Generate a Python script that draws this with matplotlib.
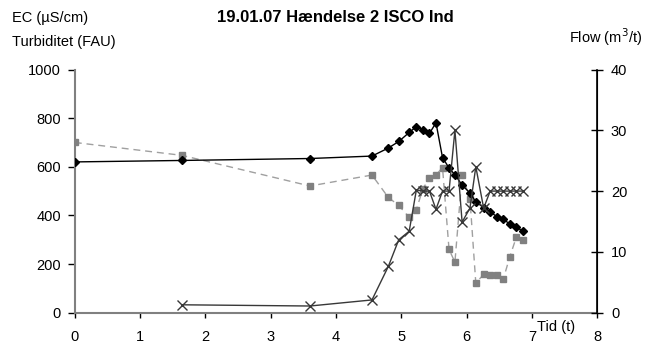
import numpy as np
import matplotlib
matplotlib.use("Agg")
import matplotlib.pyplot as plt

plt.rcParams['font.family'] = ['Liberation Sans', 'DejaVu Sans']

# Sampling times (hours)
tid = [0, 1.64, 3.6, 4.55, 4.8, 4.96, 5.12, 5.23, 5.33, 5.43, 5.53, 5.63,
       5.73, 5.82, 5.93, 6.05, 6.14, 6.26, 6.36, 6.46, 6.56, 6.66, 6.76, 6.86]

# Conductivity (µS/cm)
ec = [620, 626, 634, 644, 677, 704, 741, 765, 752, 737, 781, 638,
      595, 567, 525, 492, 456, 432, 415, 395, 384, 365, 351, 336]

# Turbidity (FAU)
turbiditet = [700, 647, 521, 566, 474, 441, 392, 424, 510, 553, 566, 597,
              260, 208, 566, 469, 121, 158, 154, 154, 137, 230, 310, 299]

# Flow (m3/t); no reading at t = 0
flow = [np.nan, 1.3, 1.1, 2.1, 7.6, 12.0, 13.4, 20.2, 20.0, 20.0, 17.0, 20.0,
        20.0, 30.0, 14.9, 17.2, 24.0, 17.2, 20.0, 20.0, 20.0, 20.0, 20.0, 20.0]

x_ticks = [0, 1, 2, 3, 4, 5, 6, 7, 8]
left_ticks = [0, 200, 400, 600, 800, 1000]
right_ticks = [0, 10, 20, 30, 40]

W, H = 647, 347
fig = plt.figure(figsize=(W / 100, H / 100), dpi=100)
ax = fig.add_axes([74.8 / W, 1 - 312.7 / H, (597.3 - 74.8) / W, (312.7 - 69.5) / H])
ax2 = ax.twinx()

ax.plot(tid, turbiditet, color='#a0a0a0', lw=1, ls=(0, (5, 3.5)),
        marker='s', ms=4, mfc='#808080', mec='#808080', zorder=2)
ax.plot(tid, ec, color='black', lw=1, marker='D', ms=3.8,
        mfc='black', mec='black', zorder=3)
ax2.plot(tid, flow, color='#383838', lw=1, marker='x', ms=7, mew=1,
         mec='#383838', zorder=4)

ax.set_xlim(0, 8)
ax.set_ylim(0, 1000)
ax2.set_ylim(0, 40)
ax.set_xticks(x_ticks)
ax.set_yticks(left_ticks)
ax2.set_yticks(right_ticks)

for a in (ax, ax2):
    a.spines['top'].set_visible(False)
ax.spines['left'].set_color('#808080')
ax.spines['left'].set_linewidth(1.5)
ax.spines['bottom'].set_color('#808080')
ax.spines['bottom'].set_linewidth(1.5)
ax2.spines['left'].set_visible(False)
ax2.spines['bottom'].set_visible(False)
ax2.spines['right'].set_color('black')
ax2.spines['right'].set_linewidth(1.2)

ax.tick_params(axis='x', direction='out', length=3.6, width=1, color='black',
               labelsize=10.5, pad=8.5)
ax.tick_params(axis='y', direction='out', length=5, width=1, color='black',
               labelsize=10.5, pad=5)
ax2.tick_params(axis='y', direction='inout', length=8.6, width=1, color='black',
                labelsize=10.5, pad=5.5)

fig.text(12 / W, 1 - 18 / H, 'EC (µS/cm)', fontsize=10.5, va='center', ha='left')
fig.text(12 / W, 1 - 42 / H, 'Turbiditet (FAU)', fontsize=10.5, va='center', ha='left')
fig.text(335 / W, 1 - 17 / H, '19.01.07 Hændelse 2 ISCO Ind', fontsize=12,
         fontweight='bold', va='center', ha='center')
fig.text(642 / W, 1 - 37 / H, 'Flow (m$^3$/t)', fontsize=10.5, va='center', ha='right')
fig.text(537 / W, 1 - 327 / H, 'Tid (t)', fontsize=10.5, va='center', ha='left')

fig.savefig('out.png', dpi=100, facecolor='white')
